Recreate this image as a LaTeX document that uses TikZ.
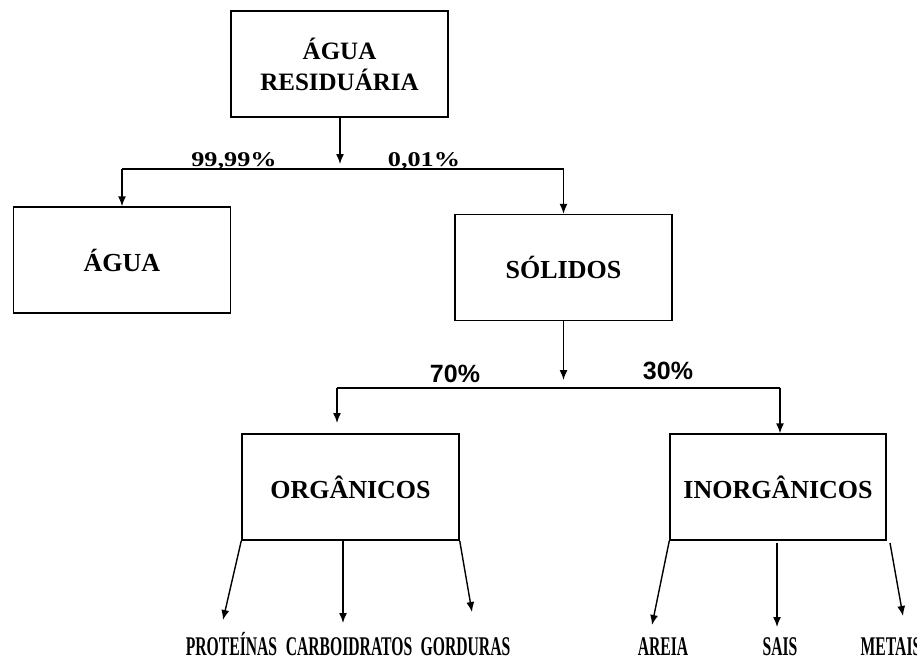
\documentclass[tikz,border=0pt]{standalone}
\usepackage{fontspec}
\setmainfont{Liberation Serif}
\newfontfamily\sansfnt{Liberation Sans}
\usetikzlibrary{arrows.meta}
\newcommand{\narrowtxt}[1]{\scalebox{0.58}[1]{#1}}
\begin{document}
\begin{tikzpicture}[x=1pt,y=-1pt,
  boxnode/.style={draw,line width=1.4pt,inner sep=0pt,minimum width=217pt,minimum height=106pt,
    font=\fontsize{26}{30}\selectfont\bfseries,align=center},
  conn/.style={line width=1.4pt},
  arr/.style={line width=1.4pt,-{Latex[length=10pt,width=8pt]}},
  pctser/.style={inner sep=0pt,anchor=base,font=\fontsize{21}{24}\selectfont\bfseries,xscale=1.25},
  pctsans/.style={inner sep=0pt,anchor=base,font=\fontsize{25}{28}\selectfont\sansfnt\bfseries},
  leaf/.style={inner sep=0pt,anchor=base,font=\fontsize{27}{28}\selectfont\bfseries}]
\useasboundingbox (0,0) rectangle (917,658);

% boxes
\node[boxnode,font=\fontsize{25}{31}\selectfont\bfseries] (top) at (339.5,64)
  {\begin{tabular}{@{}c@{}}\rule{0pt}{32pt}ÁGUA\\RESIDUÁRIA\end{tabular}};
\node[boxnode] (agua) at (122,260) {ÁGUA};
\node[boxnode] (sol) at (563.5,267.5) {SÓLIDOS};
\node[boxnode] (org) at (350.5,487) {ORGÂNICOS};
\node[boxnode,minimum width=216pt] (inorg) at (778,487) {INORGÂNICOS};

% first split
\coordinate (t1) at (340,164);
\coordinate (h1l) at (122,169);
\coordinate (h1r) at (563.5,169);
\draw[arr] (top.south -| t1) -- (t1);
\draw[conn] (h1l) -- (h1r);
\draw[arr] (h1l) -- (agua.north);
\draw[arr] (h1r) -- (sol.north);
\node[pctser] (p1) at (234,166) {99,99\%};
\node[pctser] (p2) at (424,166) {0,01\%};

% second split
\coordinate (t2) at (563.5,380);
\coordinate (h2l) at (337,388);
\coordinate (h2r) at (780,388);
\coordinate (o2) at (337,423);
\draw[arr] (sol.south) -- (t2);
\draw[conn] (h2l) -- (h2r);
\draw[arr] (h2l) -- (o2);
\draw[arr] (h2r) -- (h2r |- inorg.north);
\node[pctsans] (p3) at (455,382) {70\%};
\node[pctsans] (p4) at (668,379) {30\%};

% organic leaves
\coordinate (oa) at (223,620);
\coordinate (ob0) at (343,540);
\coordinate (ob) at (343,623);
\coordinate (oc) at (472,612);
\draw[arr] (org.south west) -- (oa);
\draw[arr] (ob0) -- (ob);
\draw[arr] (org.south east) -- (oc);
\node[leaf] (prot) at (231.5,655) {\narrowtxt{PROTEÍNAS}};
\node[leaf] (carb) at (349,655) {\narrowtxt{CARBOIDRATOS}};
\node[leaf] (gord) at (465.5,655) {\narrowtxt{GORDURAS}};

% inorganic leaves
\coordinate (ia) at (652,625);
\coordinate (ib0) at (777,543);
\coordinate (ib) at (777,627);
\coordinate (ic0) at (890,543);
\coordinate (ic) at (903,616);
\draw[arr] (inorg.south west) -- (ia);
\draw[arr] (ib0) -- (ib);
\draw[arr] (ic0) -- (ic);
\node[leaf] (areia) at (663,655) {\narrowtxt{AREIA}};
\node[leaf] (sais) at (780,655) {\narrowtxt{SAIS}};
\node[leaf] (metais) at (891,655) {\narrowtxt{METAIS}};
\end{tikzpicture}
\end{document}
